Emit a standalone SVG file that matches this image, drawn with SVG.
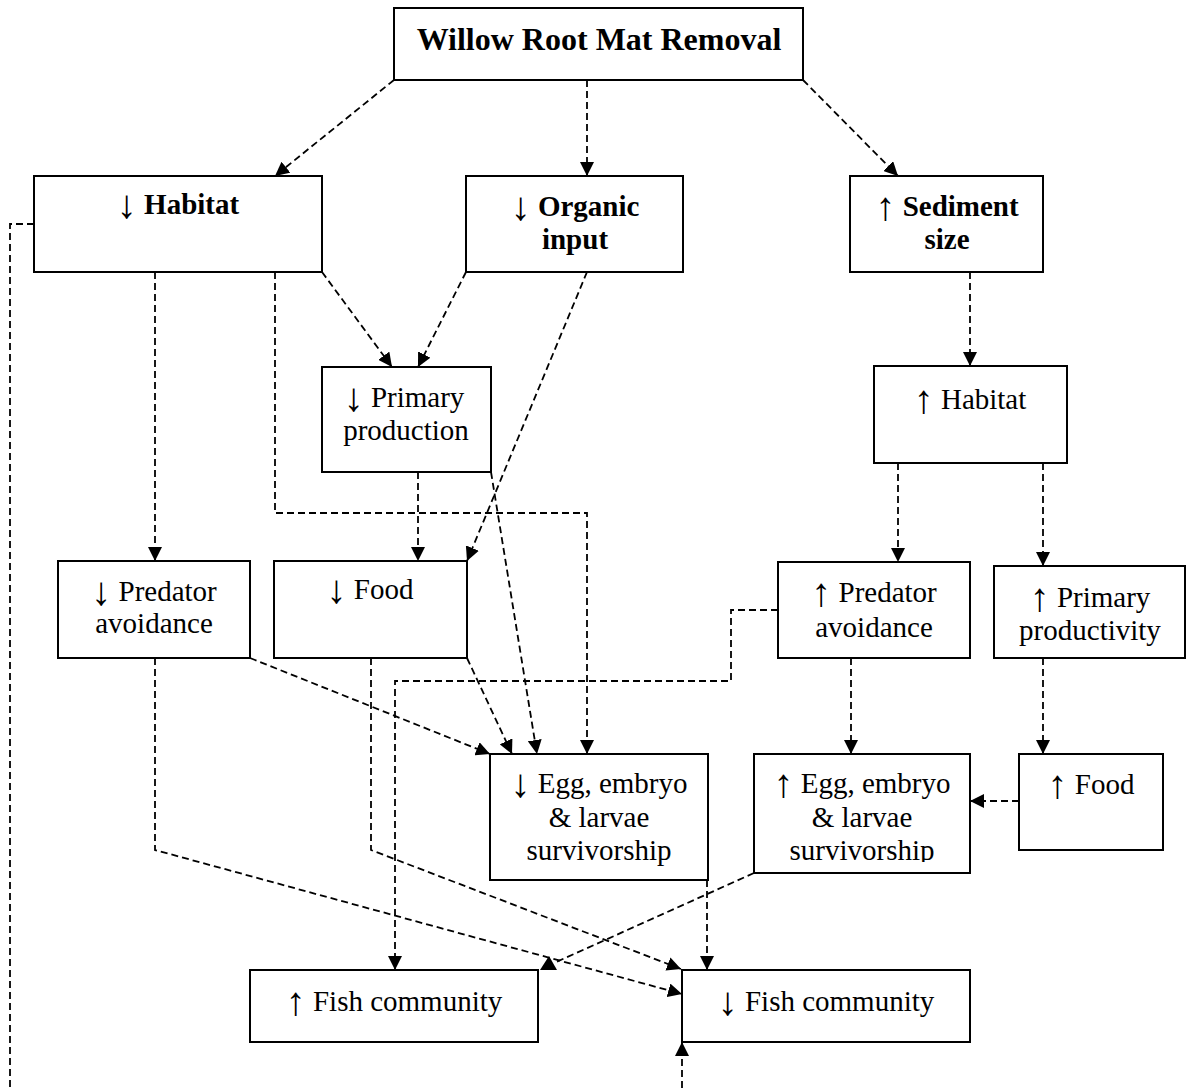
<svg xmlns="http://www.w3.org/2000/svg" width="1186" height="1088" viewBox="0 0 1186 1088">
<style>
.box{fill:#fff;stroke:#000;stroke-width:2}
.t{font-family:"Liberation Serif","Times New Roman",serif;font-size:29px;fill:#000;text-anchor:middle}
.b{font-weight:bold}
.ar{font-size:40px;font-weight:normal}
.c{fill:none;stroke:#000;stroke-width:1.8;stroke-dasharray:7 4;marker-end:url(#ah)}
.n{fill:none;stroke:#000;stroke-width:1.8;stroke-dasharray:7 4}
</style>
<defs>
<marker id="ah" markerUnits="userSpaceOnUse" markerWidth="15" markerHeight="14" refX="14" refY="7" orient="auto">
<path d="M0,0 L14,7 L0,14 z" fill="#000"/>
</marker>
<clipPath id="clipUpEgg"><rect x="754" y="754" width="216" height="108"/></clipPath>
</defs>
<rect width="1186" height="1088" fill="#fff"/>

<g id="connectors">
<path class="c" d="M394,80 L275,176"/>
<path class="c" d="M587,80 L587,176"/>
<path class="c" d="M803,80 L898,176"/>
<path class="c" d="M322,272 L392,367"/>
<path class="c" d="M466,272 L418,367"/>
<path class="c" d="M587,272 L467,561"/>
<path class="c" d="M155,272 L155,561"/>
<path class="c" d="M275,272 L275,513 L587,513 L587,754"/>
<path class="c" d="M418,472 L418,561"/>
<path class="c" d="M491,472 L537,754"/>
<path class="c" d="M467,658 L512,754"/>
<path class="c" d="M250,658 L490,754"/>
<path class="c" d="M155,658 L155,850 L682,994"/>
<path class="c" d="M371,658 L371,850 L681,969"/>
<path class="c" d="M778,610 L731,610 L731,681 L395,681 L395,970"/>
<path class="n" d="M754,873 L554,963"/>
<polygon points="540,970 557,970 549,956" fill="#000"/>
<path class="c" d="M707,880 L707,970"/>
<path class="c" d="M970,272 L970,366"/>
<path class="c" d="M898,463 L898,562"/>
<path class="c" d="M1043,463 L1043,566"/>
<path class="c" d="M851,658 L851,754"/>
<path class="c" d="M1043,658 L1043,754"/>
<path class="c" d="M1019,801 L970,801"/>
<path class="n" d="M34,224 L10,224 L10,1088"/>
<path class="c" d="M682,1088 L682,1042"/>
</g>

<g id="n-title"><rect class="box" x="394" y="8" width="409" height="72"/><text class="t b" x="599" y="50" style="font-size:32px">Willow Root Mat Removal</text></g>
<g id="n-habitat-down"><rect class="box" x="34" y="176" width="288" height="96"/><text class="t b" x="178" y="214"><tspan class="ar" dy="4">↓</tspan><tspan dy="-4"> Habitat</tspan></text></g>
<g id="n-organic"><rect class="box" x="466" y="176" width="217" height="96"/><text class="t b" x="575" y="216"><tspan class="ar" dy="4">↓</tspan><tspan dy="-4"> Organic</tspan></text><text class="t b" x="575" y="249">input</text></g>
<g id="n-sediment"><rect class="box" x="850" y="176" width="193" height="96"/><text class="t b" x="947" y="216"><tspan class="ar" dy="4">↑</tspan><tspan dy="-4"> Sediment</tspan></text><text class="t b" x="947" y="249">size</text></g>
<g id="n-primprod"><rect class="box" x="322" y="367" width="169" height="105"/><text class="t" x="404" y="407"><tspan class="ar" dy="4">↓</tspan><tspan dy="-4"> Primary</tspan></text><text class="t" x="406" y="440">production</text></g>
<g id="n-habitat-up"><rect class="box" x="874" y="366" width="193" height="97"/><text class="t" x="970" y="409"><tspan class="ar" dy="4">↑</tspan><tspan dy="-4"> Habitat</tspan></text></g>
<g id="n-pred-down"><rect class="box" x="58" y="561" width="192" height="97"/><text class="t" x="154" y="601"><tspan class="ar" dy="4">↓</tspan><tspan dy="-4"> Predator</tspan></text><text class="t" x="154" y="633">avoidance</text></g>
<g id="n-food-down"><rect class="box" x="274" y="561" width="193" height="97"/><text class="t" x="370" y="599"><tspan class="ar" dy="4">↓</tspan><tspan dy="-4"> Food</tspan></text></g>
<g id="n-pred-up"><rect class="box" x="778" y="562" width="192" height="96"/><text class="t" x="874" y="602"><tspan class="ar" dy="4">↑</tspan><tspan dy="-4"> Predator</tspan></text><text class="t" x="874" y="637">avoidance</text></g>
<g id="n-primprod-up"><rect class="box" x="994" y="566" width="191" height="92"/><text class="t" x="1090" y="607"><tspan class="ar" dy="4">↑</tspan><tspan dy="-4"> Primary</tspan></text><text class="t" x="1090" y="640">productivity</text></g>
<g id="n-egg-down"><rect class="box" x="490" y="754" width="218" height="126"/><text class="t" x="599" y="793"><tspan class="ar" dy="4">↓</tspan><tspan dy="-4"> Egg, embryo</tspan></text><text class="t" x="599" y="827">&amp; larvae</text><text class="t" x="599" y="860">survivorship</text></g>
<g id="n-egg-up"><rect class="box" x="754" y="754" width="216" height="119"/><g clip-path="url(#clipUpEgg)"><text class="t" x="862" y="793"><tspan class="ar" dy="4">↑</tspan><tspan dy="-4"> Egg, embryo</tspan></text><text class="t" x="862" y="827">&amp; larvae</text><text class="t" x="862" y="860">survivorship</text></g></g>
<g id="n-food-up"><rect class="box" x="1019" y="754" width="144" height="96"/><text class="t" x="1091" y="794"><tspan class="ar" dy="4">↑</tspan><tspan dy="-4"> Food</tspan></text></g>
<g id="n-fish-up"><rect class="box" x="250" y="970" width="288" height="72"/><text class="t" x="394" y="1011"><tspan class="ar" dy="4">↑</tspan><tspan dy="-4"> Fish community</tspan></text></g>
<g id="n-fish-down"><rect class="box" x="682" y="970" width="288" height="72"/><text class="t" x="826" y="1011"><tspan class="ar" dy="4">↓</tspan><tspan dy="-4"> Fish community</tspan></text></g>
</svg>
